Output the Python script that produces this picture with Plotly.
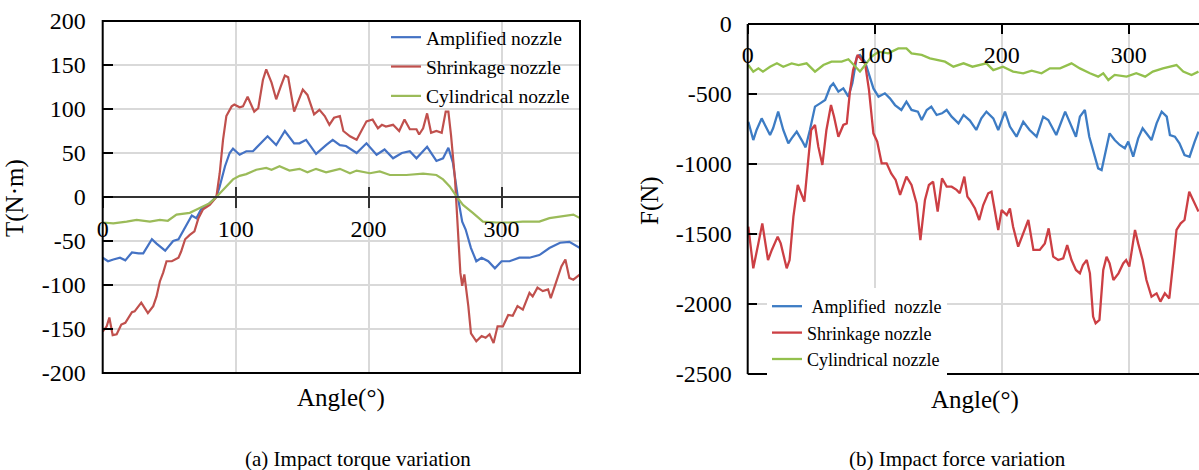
import plotly.graph_objects as go

# ---------------- (a) Impact torque ----------------
ang_T_amp = [0,4,8,13,17,22,27,30.5,37,40.5,47,53,57,60.5,67,70.5,74,79,85.5,88,92,95.5,98,103,108,113,120.5,124,130.5,137,144,148,153,160.5,168,173,178.4,183,191,198.4,206,212,218.4,225,231,236,244,251,256,260,263.4,267,270.4,273,277,281,285,290,295,300,306,313.4,321,328.4,336,344,351,357,359]
T_amp = [-69,-73,-71,-69,-72,-63,-64,-64,-48,-53,-61,-50,-48,-39,-21,-24,-14,-9,0,12,35,50,55,48,52,52,63,69,59,75,61,61,65,49,59,65,59,58,50,61,48,54,44,50,52,44,57,41,44,56,39,1,-28,-37,-58,-73,-69,-73,-81,-73,-73,-69,-69,-66,-58,-52,-51,-56,-58]

ang_T_shr = [0,3,5,7.5,10.5,14,17,22,24,29,34,38,40.5,43,45.5,48,52,57,59,62,65.5,69,72,75.5,80.5,85.5,88,90.5,93,97,99,103,105.5,109,114,117,120.5,123,127,130.5,134,137,139.5,144,150.5,154,159,163,167,170.5,174,178.4,181,186,191,195,198.4,203,207,210,213,218.4,223,227,231,236,238,241,244,247,251,255,258,260,262,265,267,269,270.4,272,275,277,281,285,288,291,294,297,301,305,308.4,312,316,321,323.4,327,331,335,337,341,345,348,351,354,357,359]
T_shr = [-153,-147,-137,-157,-156,-145,-143,-131,-130,-120,-132,-124,-113,-96,-86,-73,-73,-69,-62,-48,-43,-39,-24,-14,-9,0,27,65,92,103,105,102,103,114,97,101,133,145,130,111,126,138,136,97,122,116,94,99,92,82,90,92,75,69,65,77,86,88,78,82,80,82,75,88,77,77,71,78,95,73,75,73,97,97,70,20,-33,-86,-101,-88,-124,-155,-164,-158,-160,-156,-166,-147,-147,-134,-135,-124,-128,-109,-113,-103,-107,-105,-115,-98,-79,-71,-92,-94,-90,-88]

ang_T_cyl = [0,8,18,25.5,35.5,43,49,55.5,65.5,73,80.5,85.5,92,98,103,108,115.5,123,127,133,140.5,148,154,160.5,168,178.4,186,191,201,208.4,216,228.4,241,251,256,261,266,271,278.4,286,296,306,316,328.4,336,346,354,359]
T_cyl = [-29,-30,-28,-26,-28,-26,-27,-20,-18,-12.5,-7,0,10,20,24,26,31,33,31,35,30,32,28,32,28,32,27,30,27,29,25,25,26.5,25,20,12,1,-9,-18,-28,-29,-29,-28,-28,-24,-22,-20,-24]

# ---------------- (b) Impact force ----------------
ang_F_amp = [0.5,4.4,7,11,13.6,17.6,20,24,28,32,34.6,38.6,42.5,45.6,49,53,57,61,65,67.4,71.4,75.3,79.3,82.4,86,88.4,92.4,95.5,99,103,108,112,116,121,125,129,134,137,141,144.6,148.8,153,156.7,160.6,166,170,175,180,184,188,193.4,197.3,202.6,206.5,211.7,217,222,227.5,232.7,236.7,243,250,253.7,258.5,261.6,265.5,269,272,276,278.7,281,285,289,293,297,299.7,303.6,307.5,311,314,318,322,326,330,332.5,336.4,340,344,348,352,355]
F_amp = [-698,-829,-757,-674,-721,-793,-745,-626,-757,-852,-817,-769,-829,-881,-757,-590,-567,-543,-448,-424,-483,-460,-519,-424,-233,-221,-269,-352,-460,-519,-495,-531,-579,-614,-555,-614,-626,-686,-614,-590,-650,-638,-614,-662,-710,-650,-690,-757,-674,-626,-674,-757,-626,-733,-805,-698,-757,-805,-662,-686,-793,-626,-710,-805,-662,-614,-805,-900,-1031,-1043,-948,-781,-829,-864,-888,-840,-948,-817,-745,-781,-829,-710,-626,-662,-793,-805,-852,-936,-948,-840,-769]

ang_F_shr = [0.5,4.4,8.4,11.5,16,19,23.6,26,30.7,33,36,39.4,42,44.6,47.7,50,53,55.6,58.8,62,65.6,68,71.4,75.3,78,80.5,83,86.6,89.7,92.4,95.5,99,102,105.5,109.4,113,116.5,120,125,129,133,136,139.6,142.7,146,149.6,153,156.7,160.6,164.5,167,170.6,173,175,179,182.3,185.5,189.4,192,194.7,197.3,200,204,206.5,209,213,217,221,225,230,234,237,240.6,244.5,248.5,251.6,255,258.5,261.6,264,267,269.5,272,274,277,280,282.6,285,288,292,295.7,298,300.5,305,307.5,311,314,318,322,325,328.5,332,335,337.7,341,344,347.7,351,355]
F_shr = [-1448,-1745,-1567,-1424,-1686,-1614,-1519,-1567,-1745,-1686,-1376,-1150,-1209,-1269,-971,-757,-721,-876,-1007,-757,-579,-662,-805,-721,-710,-483,-329,-221,-257,-281,-471,-781,-840,-995,-995,-1067,-1114,-1221,-1090,-1150,-1281,-1543,-1257,-1150,-1126,-1340,-1102,-1162,-1162,-1185,-1209,-1090,-1233,-1257,-1317,-1400,-1293,-1209,-1198,-1329,-1471,-1329,-1364,-1317,-1448,-1590,-1495,-1400,-1614,-1614,-1567,-1460,-1662,-1686,-1674,-1579,-1686,-1757,-1781,-1721,-1686,-1781,-2090,-2138,-2114,-1757,-1662,-1710,-1829,-1781,-1710,-1686,-1733,-1471,-1567,-1686,-1829,-1948,-1924,-1983,-1924,-1960,-1710,-1471,-1424,-1400,-1198,-1257,-1340]

ang_F_cyl = [0.5,4.4,8.4,12,17.6,23,28,34.6,40,46.4,53,59.6,66,74,79.3,84.5,88.4,92.4,97.6,103,110.7,118.6,125,129,137,143.5,150,155.4,162,170,177,183,188,193.4,201,209,217,223.6,231.4,238,246,255,261.6,269.5,276,280,284,289,298.4,306,313,319,327,337.7,343,349.5,355]
F_cyl = [-293,-340,-317,-340,-305,-281,-305,-281,-293,-281,-340,-293,-269,-269,-252,-305,-340,-293,-233,-198,-210,-174,-174,-210,-221,-245,-257,-269,-305,-281,-305,-293,-281,-329,-305,-340,-352,-333,-352,-317,-317,-281,-317,-352,-376,-352,-400,-364,-376,-352,-376,-340,-317,-293,-340,-364,-340]

x_ticks = [0, 100, 200, 300]
yT_ticks = [200, 150, 100, 50, 0, -50, -100, -150, -200]
yF_ticks = [0, -500, -1000, -1500, -2000, -2500]

names_a = ["Amplified nozzle", "Shrinkage nozzle", "Cylindrical nozzle"]
names_b = ["\u00a0Amplified\u00a0 nozzle", "Shrinkage nozzle", "Cylindrical nozzle"]
colors_a = ["#4472C4", "#C0504D", "#9BBB59"]
colors_b = ["#3D7CC4", "#CC3F44", "#93C04D"]

assert len(ang_T_amp) == len(T_amp) and len(ang_T_shr) == len(T_shr) and len(ang_T_cyl) == len(T_cyl)
assert len(ang_F_amp) == len(F_amp) and len(ang_F_shr) == len(F_shr) and len(ang_F_cyl) == len(F_cyl)

SERIF = "Liberation Serif, Times New Roman, serif"
GRID = "#d9d9d9"

fig = go.Figure()
for i, (xs, ys) in enumerate([(ang_T_amp, T_amp), (ang_T_shr, T_shr), (ang_T_cyl, T_cyl)]):
    fig.add_trace(go.Scatter(x=xs, y=ys, mode="lines", name=names_a[i],
                             line=dict(color=colors_a[i], width=2.2),
                             xaxis="x", yaxis="y", legend="legend", legendgroup="a%d" % i))
for i, (xs, ys) in enumerate([(ang_F_amp, F_amp), (ang_F_shr, F_shr), (ang_F_cyl, F_cyl)]):
    fig.add_trace(go.Scatter(x=xs, y=ys, mode="lines", name=names_b[i],
                             line=dict(color=colors_b[i], width=2.3),
                             xaxis="x2", yaxis="y2", legend="legend2", legendgroup="b%d" % i))
# empty helper trace so the overlay axis (upper half of crossing ticks) is drawn
fig.add_trace(go.Scatter(x=[], y=[], xaxis="x3", yaxis="y", showlegend=False, hoverinfo="skip"))

W, H = 1199, 470
axL = (102.7 / W, 580 / W)
ayL = (1 - 373 / H, 1 - 21 / H)
axR = (747.7 / W, 1.0)
ayR = (1 - 374 / H, 1 - 24 / H)
tickfont = dict(family=SERIF, size=24, color="black")

def lab(vals):
    return [str(v) for v in vals]

fig.update_layout(
    template="none",
    width=W, height=H, margin=dict(l=0, r=0, t=0, b=0, pad=0, autoexpand=False),
    paper_bgcolor="white", plot_bgcolor="white",
    font=dict(family=SERIF, color="black"),
    xaxis=dict(domain=list(axL), range=[0, 359], anchor="free", position=1 - 197.3 / H, side="bottom",
               tickmode="array", tickvals=x_ticks, ticktext=lab(x_ticks), ticks="outside", ticklen=10, tickwidth=1.5,
               tickcolor="#333", showline=True, linecolor="#333", linewidth=1.5,
               showgrid=True, gridcolor=GRID, gridwidth=1.5, zeroline=False, automargin=False,
               tickfont=tickfont, ticklabelstandoff=0),
    xaxis3=dict(domain=list(axL), range=[0, 359], anchor="free", position=1 - 197.3 / H, overlaying="x",
                side="bottom", tickmode="array", tickvals=x_ticks[1:], ticks="inside", ticklen=10,
                tickwidth=1.5, tickcolor="#333", showticklabels=False, showgrid=False, showline=False,
                zeroline=False, automargin=False),
    yaxis=dict(domain=list(ayL), range=[-200, 200], anchor="x", tickmode="array", tickvals=yT_ticks,
               ticktext=lab(yT_ticks), ticks="inside", ticklen=10, tickwidth=1.5, tickcolor="black",
               showgrid=True, gridcolor=GRID, gridwidth=1.5, zeroline=False, showline=False, automargin=False,
               tickfont=tickfont, ticklabelstandoff=16),
    xaxis2=dict(domain=list(axR), range=[0, 355.4], anchor="free", position=ayR[1], side="bottom",
                tickmode="array", tickvals=x_ticks, ticktext=lab(x_ticks), ticks="outside", ticklen=9, tickwidth=1.5,
                tickcolor="black", showline=True, linecolor="black", linewidth=2,
                showgrid=True, gridcolor=GRID, gridwidth=1.5, zeroline=False, automargin=False,
                tickfont=tickfont, ticklabelstandoff=0),
    yaxis2=dict(domain=list(ayR), range=[-2500, 0], anchor="x2", tickmode="array", tickvals=yF_ticks,
                ticktext=lab(yF_ticks), ticks="inside", ticklen=9, tickwidth=1.5, tickcolor="black",
                showgrid=True, gridcolor=GRID, gridwidth=1.5, zeroline=False, showline=False, automargin=False,
                tickfont=tickfont, ticklabelstandoff=15),
    legend=dict(x=386 / W, y=1 - 18 / H, xanchor="left", yanchor="top", bgcolor="rgba(0,0,0,0)",
                borderwidth=0, font=dict(family=SERIF, size=19.5, color="black"), tracegroupgap=1,
                itemclick=False),
    legend2=dict(x=767 / W, y=1 - 288 / H, xanchor="left", yanchor="top", bgcolor="white",
                 borderwidth=0, font=dict(family=SERIF, size=18, color="black"), tracegroupgap=0,
                 itemclick=False),
    showlegend=True,
)

frame = dict(color="black", width=2)
fig.add_shape(type="rect", xref="x domain", yref="y domain", x0=0, x1=1, y0=0, y1=1, line=frame, layer="above")
fig.add_shape(type="line", xref="x2 domain", yref="y2 domain", x0=0, x1=0, y0=0, y1=1, line=frame, layer="above")
fig.add_shape(type="line", xref="x2 domain", yref="y2 domain", x0=0, x1=1, y0=0, y1=0, line=frame, layer="above")

def ann(text, x, y, size, angle=0):
    fig.add_annotation(text=text, x=x / W, y=1 - y / H, xref="paper", yref="paper", showarrow=False,
                       textangle=angle, xanchor="center", yanchor="middle",
                       font=dict(family=SERIF, size=size, color="black"))

ann("T(N·m)", 15, 198, 25, -90)
ann("Angle(°)", 341, 398, 25)
ann("F(N)", 650, 200, 25, -90)
ann("Angle(°)", 975, 400, 25)
ann("(a) Impact torque variation", 358, 459, 21)
ann("(b) Impact force variation", 957, 459, 21)

fig.write_html("out.html")
